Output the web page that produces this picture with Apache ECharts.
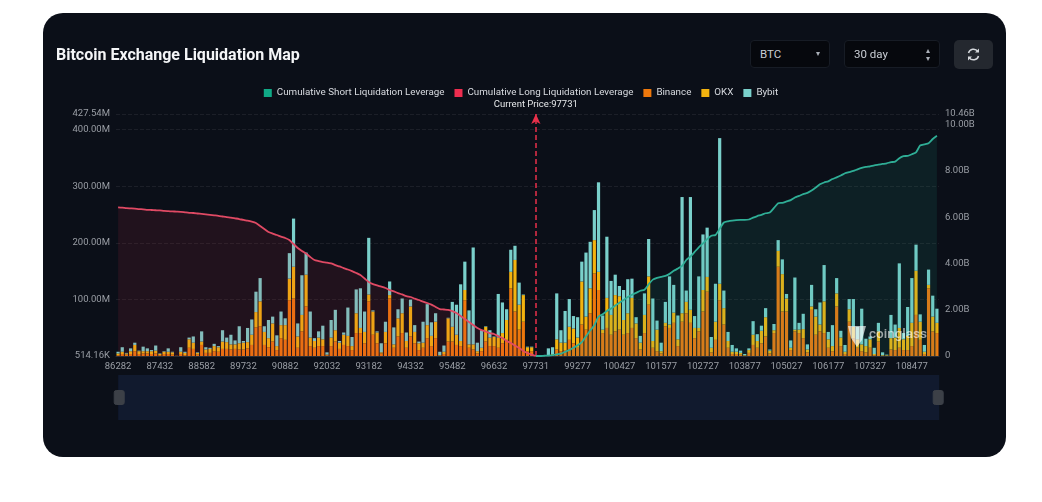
<!DOCTYPE html>
<html><head><meta charset="utf-8">
<script src="https://cdn.jsdelivr.net/npm/echarts@6/dist/echarts.min.js"></script>
<style>
html,body{margin:0;padding:0;background:#fff;width:1042px;height:502px;overflow:hidden;font-family:Roboto,"Open Sans",sans-serif}
#panel{position:absolute;left:43px;top:13px;width:963px;height:444px;background:#0b0f18;border-radius:20px}
#chart{position:absolute;left:0;top:0;width:1042px;height:502px;filter:blur(0.35px)}
.ctl{position:absolute;top:40px;height:28px;box-sizing:border-box;background:#06080d;border:1px solid #171c25;border-radius:4px;color:#c9cdd4;font-size:11.5px;line-height:26px;padding-left:9px}
.ctl i{position:absolute;font-style:normal;color:#aab0b8;font-size:8px;right:9px;top:0}
#ref{position:absolute;left:954px;top:40px;width:39px;height:29px;background:#24282f;border-radius:5px}
</style></head><body>
<div id="panel"></div>
<div id="chart"></div>
<div class="ctl" style="left:750px;width:80px">BTC<i>▾</i></div>
<div class="ctl" style="left:844px;width:96px">30 day<i style="line-height:8px;top:6px">▴<br>▾</i></div>
<div id="ref"><svg width="39" height="29" viewBox="0 0 39 29"><path d="M14.5 13a5.2 5.2 0 0 1 9.3-1.6M24.5 16a5.2 5.2 0 0 1-9.3 1.6" fill="none" stroke="#d5d8dc" stroke-width="1.5"/><path d="M25 8.5v4h-4zM14 20.5v-4h4z" fill="#d5d8dc"/></svg></div>
<script>
const tickLabels = ['86282','87432','88582','89732','90882','92032','93182','94332','95482','96632','97731','99277','100427','101577','102727','103877','105027','106177','107327','108477'];
const leftTicks = ['514.16K','100.00M','200.00M','300.00M','400.00M','427.54M'];
const binance = [2,4,3,4,9,4,5,5,4,5, 2,4,4,3,1,4,2,15,13,3, 20,6,6,9,8,13,13,12,13,12, 12,14,20,51,53,20,16,26,11,32,
29,99,102,15,44,88,18,15,18,18, 2,18,26,13,20,18,11,41,41,23, 97,38,23,5,23,102,15,35,41,15, 35,23,11,15,32,18,32,1,4,26,
26,20,18,99,15,12,5,9,26,18, 18,15,23,29,120,79,47,61,9,9, 0,0,0,1,2,12,9,11,29,23,
15,56,47,76,146,117,41,50,38,44, 47,38,41,50,32,12,41,91,15,9, 5,53,50,59,18,61,76,59,32,44, 79,114,7,29,99,56,15,4,4,3,
1,6,20,15,23,35,5,41,158,79, 79,11,44,41,32,7,82,38,44,41, 15,9,88,18,4,61,32,15,9,7, 15,2,26,1,1,12,11,15,11,11, 18,73,29,4,120,44,41];
const okx = [3,4,2,5,11,5,4,4,5,5, 2,4,4,4,0,4,4,15,11,3, 6,6,7,9,8,13,12,9,8,11, 12,11,18,27,44,23,16,32,7,23,
26,38,56,20,29,56,15,12,15,12, 1,15,20,11,18,18,7,35,9,20, 12,41,19,2,20,6,6,32,35,12, 53,20,12,9,23,18,29,1,4,41,
26,18,9,18,6,9,4,6,26,15, 16,18,18,35,29,91,44,47,7,7, 0,0,0,1,2,18,15,13,23,26,
18,76,23,44,59,32,6,53,35,64, 59,26,35,53,26,12,32,50,12,38, 4,6,6,18,12,15,20,23,18,6, 38,26,8,32,29,29,12,4,4,3,
1,5,18,12,22,34,5,5,28,66, 23,4,3,6,16,5,6,32,12,56, 15,9,23,15,4,22,20,15,12,11, 15,2,18,1,1,20,22,35,19,25, 41,78,32,4,6,26,18];
const bybit = [3,8,1,5,4,1,8,5,2,9, 1,1,6,1,0,8,2,3,11,1, 18,4,2,4,2,20,8,17,7,30, 3,25,27,36,41,10,32,12,19,24,
12,45,85,23,70,39,46,5,11,24, 4,31,36,3,4,50,16,42,70,36, 100,2,2,16,18,24,30,16,26,15, 12,12,3,37,37,24,15,6,11,1,
44,53,100,50,60,171,15,31,1,13, 1,77,54,19,39,25,39,1,1,1, 0,0,0,12,12,81,22,56,49,22,
36,35,113,82,53,158,25,108,60,36, 18,53,60,34,11,12,38,66,75,16, 15,37,85,49,42,205,20,199,21,91, 98,87,19,67,257,31,16,12,6,4,
2,3,24,12,9,16,2,11,19,26, 8,13,92,12,27,9,38,13,39,64, 13,37,27,12,12,18,49,22,63,13, 5,11,15,5,1,41,23,114,11,51, 79,46,13,12,27,37,25];
const longCum = [6.42,6.41,6.39,6.38,6.37,6.35,6.34,6.32,6.31,6.30, 6.29,6.27,6.26,6.25,6.24,6.23,6.21,6.19,6.18,6.16,
6.14,6.12,6.10,6.08,6.06,6.03,6.00,5.98,5.95,5.92, 5.88,5.85,5.81,5.75,5.62,5.49,5.36,5.29,5.23,5.16,
5.10,5.01,4.84,4.67,4.54,4.43,4.28,4.15,4.10,4.06, 4.04,4.00,3.93,3.87,3.80,3.74,3.67,3.59,3.50,3.35,
3.20,3.11,3.05,3.00,2.94,2.85,2.79,2.72,2.66,2.59, 2.55,2.48,2.42,2.35,2.29,2.22,2.12,2.03,2.01,1.99,
1.94,1.86,1.73,1.60,1.47,1.34,1.21,1.12,1.06,0.99, 0.95,0.86,0.78,0.65,0.56,0.45,0.35,0.22,0.13,0.06,0];
const shortCum = [0,0,0.01,0.02,0.04,0.07,0.10,0.18,0.26,0.36, 0.46,0.60,0.85,1.10,1.33,1.70,1.80,1.95,2.05,2.18,
2.30,2.42,2.55,2.65,2.73,2.82,2.86,3.10,3.30,3.38, 3.42,3.46,3.55,3.68,3.78,3.90,4.15,4.30,4.50,4.70,
4.87,5.05,5.20,5.23,5.50,5.77,5.82,5.85,5.87,5.88, 5.88,5.90,5.98,6.05,6.10,6.17,6.20,6.40,6.60,6.62,
6.68,6.74,6.85,6.92,7.00,7.05,7.15,7.28,7.42,7.50, 7.55,7.65,7.72,7.80,7.90,7.95,8.00,8.07,8.13,8.17,
8.20,8.24,8.27,8.30,8.33,8.38,8.40,8.55,8.64,8.65, 8.72,8.80,9.10,9.15,9.20,9.38,9.52];
const currentPrice = '97731';
const currentIndex = 100;
const categories = Array.from({length:197},(_,i)=> i%10 ? '' : tickLabels[i/10]);
const longSeries = categories.map((_,i)=> i<longCum.length ? longCum[i] : null);
const shortSeries = categories.map((_,i)=> i>=currentIndex ? shortCum[i-currentIndex] : null);
const font='Roboto';
const chart = echarts.init(document.getElementById('chart'),null,{renderer:'canvas'});
const bar=(name,data,color)=>({name,type:'bar',stack:'x',data,barWidth:3.2,itemStyle:{color},animation:false,z:2});
chart.setOption({
  animation:false,
  backgroundColor:'transparent',
  textStyle:{fontFamily:font},
  title:{text:'Bitcoin Exchange Liquidation Map',left:56,top:48,padding:0,textStyle:{color:'#f4f5f7',fontSize:16,fontWeight:'bold',fontFamily:font}},
  legend:{top:83,left:'center',itemWidth:8,itemHeight:8,itemGap:10,icon:'rect',textStyle:{color:'#d8dbe0',fontSize:9.8,fontFamily:font},
    data:['Cumulative Short Liquidation Leverage','Cumulative Long Liquidation Leverage','Binance','OKX','Bybit']},
  grid:{left:116,right:103,top:114,bottom:146},
  xAxis:{type:'category',data:categories,boundaryGap:true,
    axisLine:{lineStyle:{color:'#2a2f38'}},axisTick:{show:false},
    axisLabel:{interval:9,color:'#9a9ea5',fontSize:9.5,margin:6,fontFamily:font},splitLine:{show:false}},
  yAxis:[
    {type:'value',min:0.514,max:427.54,
     axisLine:{show:false},axisTick:{show:false},
     axisLabel:{customValues:[0.514,100,200,300,400,427.54],color:'#9a9ea5',fontSize:9.5,margin:6,fontFamily:font,
       formatter:v=>v<1?leftTicks[0]:v.toFixed(2)+'M'},
     splitLine:{lineStyle:{color:'rgba(255,255,255,0.07)',type:'dashed'}}},
    {type:'value',min:0,max:10.46,position:'right',
     axisLine:{show:false},axisTick:{show:false},
     axisLabel:{customValues:[0,2,4,6,8,10,10.46],color:'#9a9ea5',fontSize:9.5,margin:6,fontFamily:font,
       formatter:v=>v===0?'0':v.toFixed(2)+'B'},
     splitLine:{show:false}}
  ],
  dataZoom:[{type:'slider',xAxisIndex:0,start:0,end:100,left:117,right:104,top:375,height:45,
    backgroundColor:'#101829',borderColor:'transparent',fillerColor:'rgba(20,32,60,0.3)',showDataShadow:false,showDetail:false,
    brushSelect:false,moveHandleSize:0,handleIcon:'path://M2 0H8Q10 0 10 2V12Q10 14 8 14H2Q0 14 0 12V2Q0 0 2 0Z',handleSize:14,
    handleStyle:{color:'#3c4047',borderColor:'#3c4047'},emphasis:{handleStyle:{color:'#3c4047'}}}],
  series:[
    {name:'Cumulative Short Liquidation Leverage',type:'line',yAxisIndex:1,data:shortSeries,showSymbol:false,smooth:0.2,
      lineStyle:{color:'#2fae96',width:1.8},itemStyle:{color:'#10a986'},areaStyle:{color:'rgba(32,165,140,0.17)'},z:5},
    {name:'Cumulative Long Liquidation Leverage',type:'line',yAxisIndex:1,data:longSeries,showSymbol:false,smooth:0.2,
      lineStyle:{color:'#e04a64',width:1.8},itemStyle:{color:'#ee2d4f'},areaStyle:{color:'rgba(200,45,65,0.17)'},z:5,
      markLine:{silent:true,symbol:['none','arrow'],symbolSize:[7,10],
        lineStyle:{color:'#e8304a',type:[5,3],width:1.5},
        label:{formatter:'Current Price:'+currentPrice,position:'end',color:'#e6e8ea',fontSize:9.5,distance:4,fontFamily:font},
        data:[{xAxis:currentIndex}]}},
    bar('Binance',binance,'#ee780c'),
    bar('OKX',okx,'#f3b30f'),
    bar('Bybit',bybit,'#7ad0cb')
  ],
  graphic:[
    {type:'text',left:869,top:328,z:10,style:{text:'coinglass',fill:'rgba(255,255,255,0.6)',font:'500 13.5px Roboto'}},
    {type:'polygon',z:10,shape:{points:[[848,326],[866,326],[862,340],[857,347],[851,338]]},style:{fill:'rgba(255,255,255,0.65)'}}
  ]
});
</script></body></html>
